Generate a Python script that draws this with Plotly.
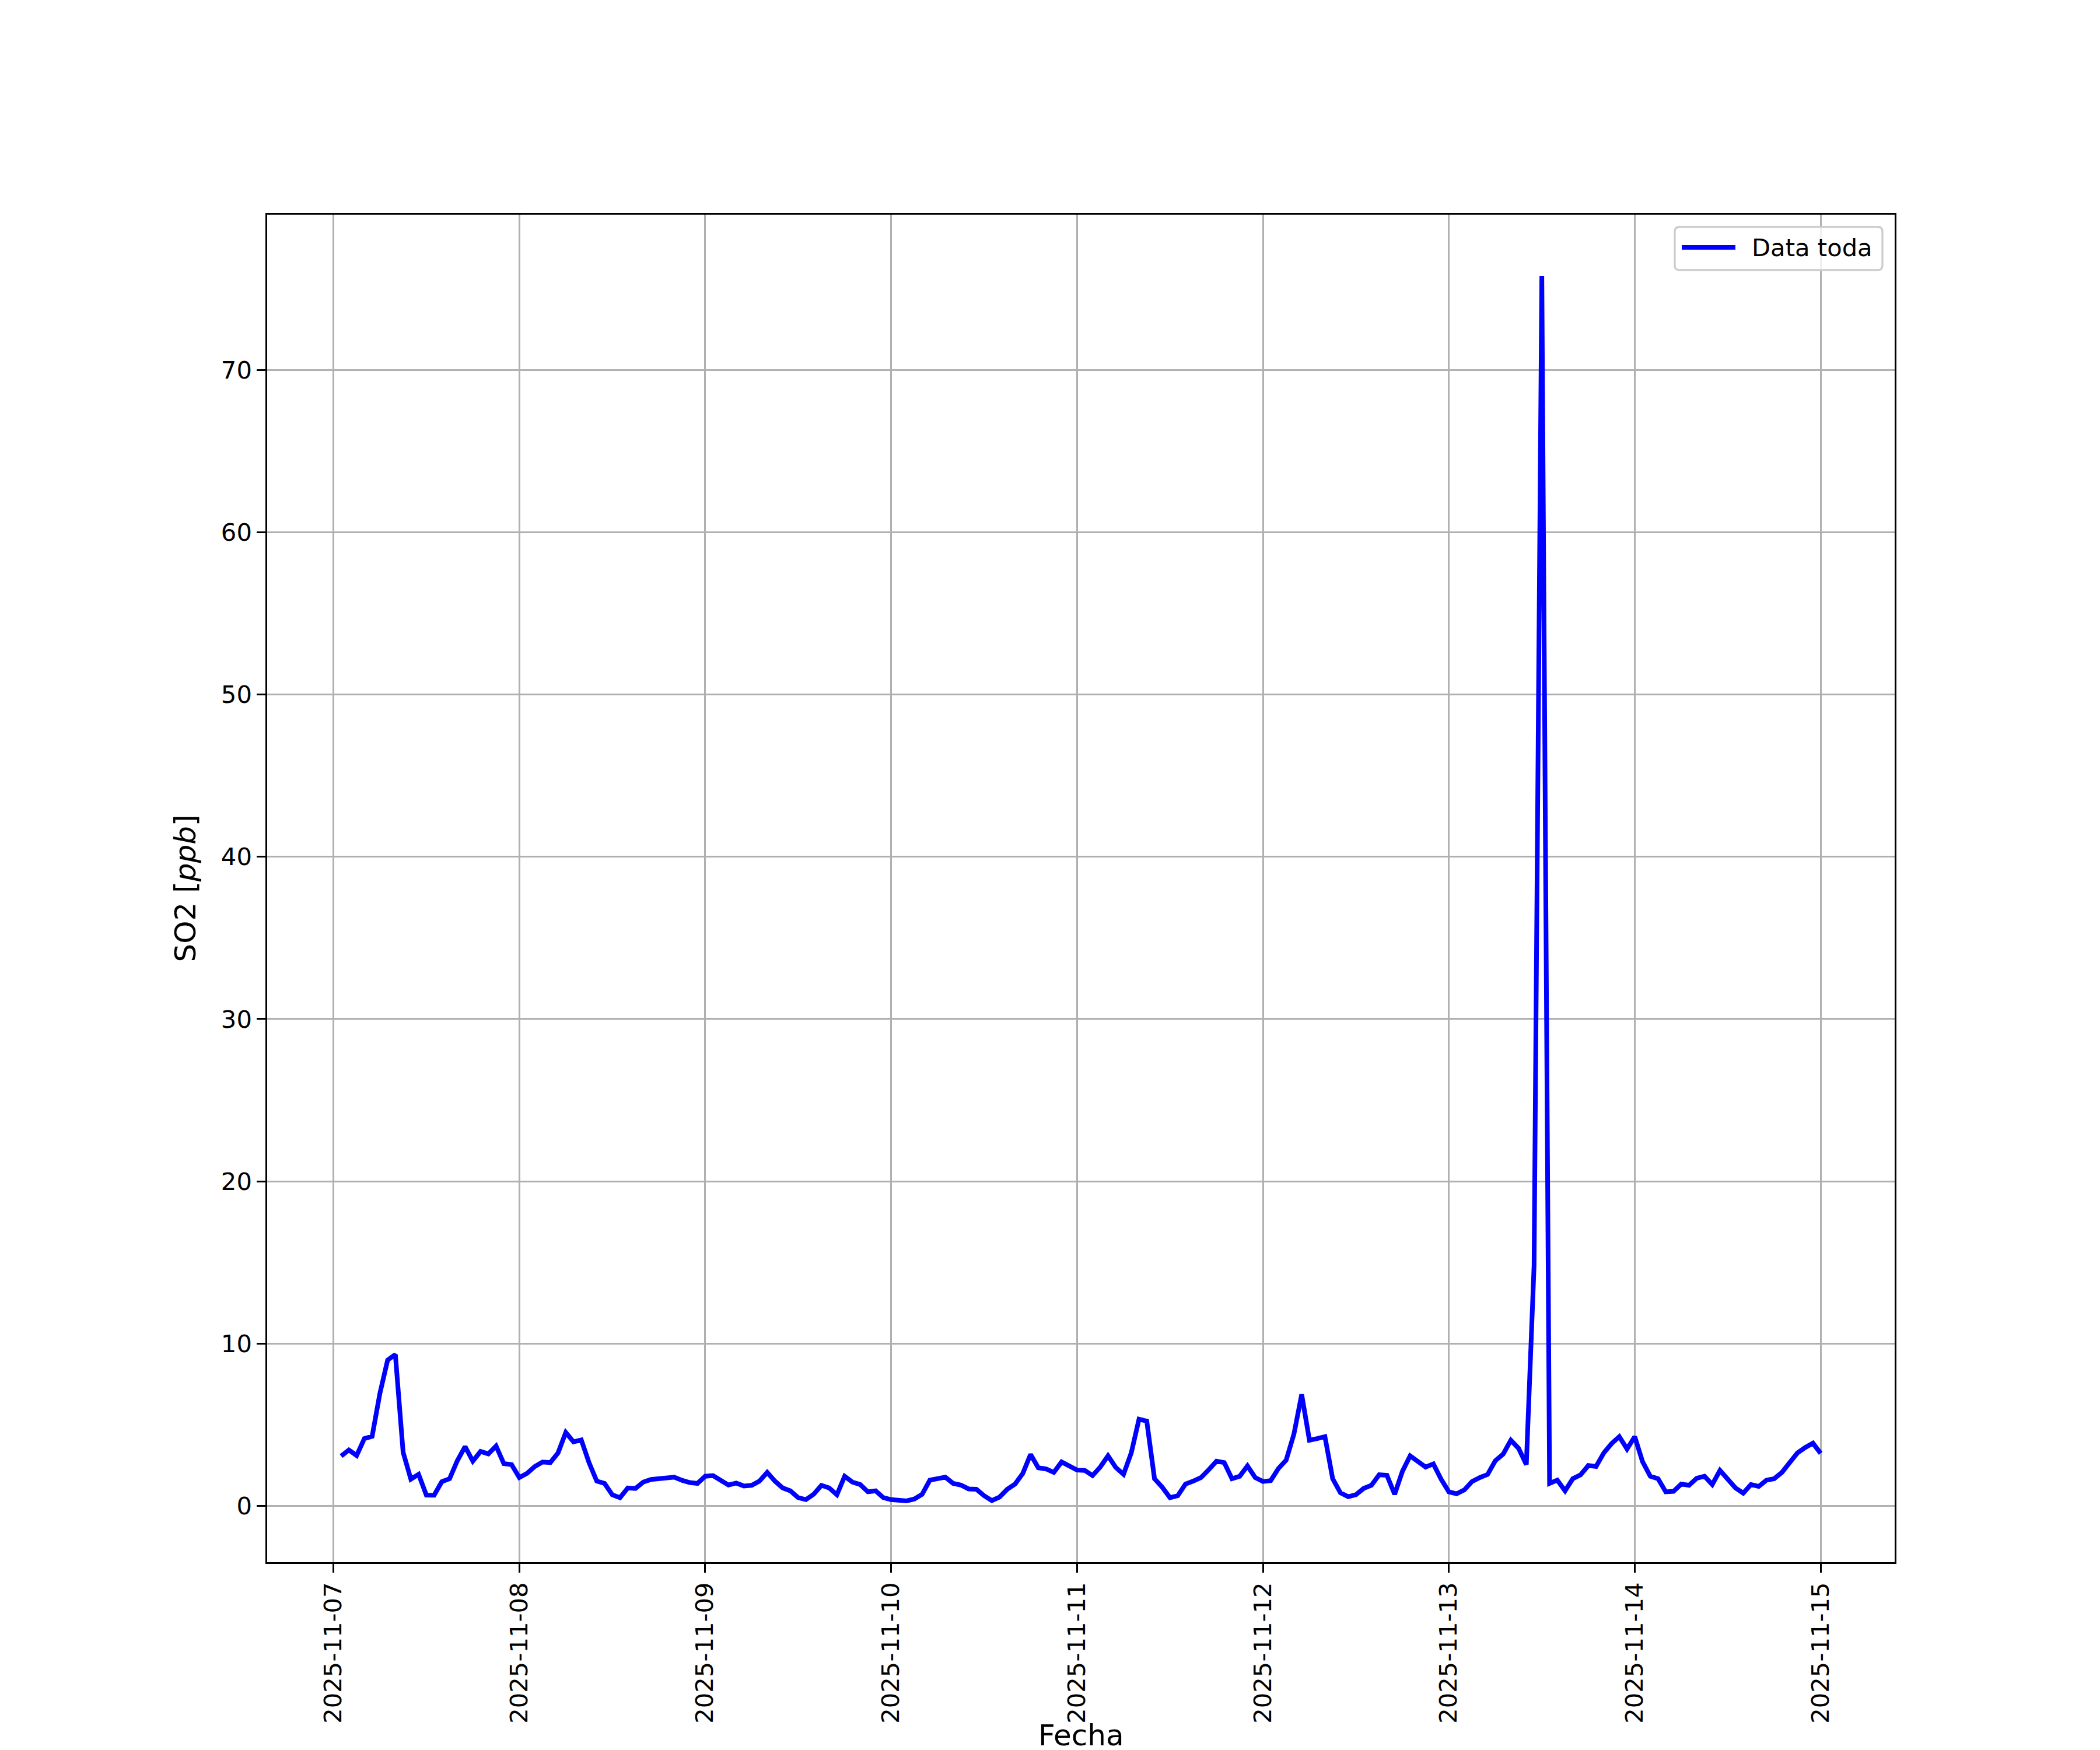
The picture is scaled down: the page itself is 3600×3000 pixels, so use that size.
import pandas as pd
import plotly.graph_objects as go

# ---- data (hourly SO2, ppb) ----
start_time = "2025-11-07 01:00"
n_hours = 192
so2_day1 = [3.06, 3.44, 3.10, 4.14, 4.28, 6.92, 8.98, 9.32, 3.30, 1.64,
            1.94, 0.66, 0.65, 1.49, 1.67, 2.78, 3.65, 2.75, 3.35, 3.20,
            3.68, 2.60, 2.54, 1.74, 2.00, 2.42, 2.70, 2.66, 3.26, 4.52,
            3.94, 4.06, 2.66, 1.52, 1.38, 0.68, 0.50, 1.10, 1.07, 1.46,
            1.62, 1.67, 1.69, 1.76, 1.57, 1.43, 1.38, 1.82]
so2_day2 = [1.86, 1.58, 1.28, 1.40, 1.22, 1.26, 1.52, 2.06, 1.52, 1.10,
            0.92, 0.50, 0.38, 0.71, 1.26, 1.10, 0.68, 1.82, 1.46, 1.31,
            0.86, 0.92, 0.50, 0.38, 0.35, 0.30, 0.42, 0.71, 1.58, 1.70,
            1.76, 1.38, 1.28, 1.04, 1.02, 0.62, 0.32, 0.54, 1.02, 1.34,
            2.00, 3.17, 2.34, 2.27, 2.06, 2.70, 2.42, 2.20]
so2_day3 = [2.18, 1.86, 2.39, 3.08, 2.36, 1.94, 3.26, 5.34, 5.22, 1.67,
            1.14, 0.50, 0.62, 1.34, 1.52, 1.74, 2.22, 2.75, 2.66, 1.67,
            1.82, 2.46, 1.74, 1.50, 1.55, 2.30, 2.82, 4.42, 6.86, 4.04,
            4.14, 4.26, 1.67, 0.80, 0.56, 0.68, 1.07, 1.26, 1.91, 1.88,
            0.71, 2.12, 3.08, 2.75, 2.39, 2.58, 1.64, 0.86]
so2_day4 = [0.74, 0.98, 1.50, 1.74, 1.93, 2.78, 3.18, 4.04, 3.54, 2.54,
            14.8, 75.8, 1.38, 1.58, 0.92, 1.67, 1.91, 2.48, 2.42, 3.26,
            3.83, 4.26, 3.50, 4.26, 2.72, 1.82, 1.67, 0.86, 0.89, 1.34,
            1.26, 1.70, 1.82, 1.31, 2.18, 1.64, 1.10, 0.78, 1.31, 1.19,
            1.58, 1.67, 2.06, 2.66, 3.26, 3.59, 3.86, 3.23]
y_ticks = [0, 10, 20, 30, 40, 50, 60, 70]
x_tick_dates = ["2025-11-07", "2025-11-08", "2025-11-09", "2025-11-10",
                "2025-11-11", "2025-11-12", "2025-11-13", "2025-11-14",
                "2025-11-15"]
series_name = "Data toda"
x_title = "Fecha"
y_title = "SO2 [<i>ppb</i>]"

so2 = so2_day1 + so2_day2 + so2_day3 + so2_day4
times = pd.date_range(start_time, periods=n_hours, freq="h")

# matplotlib-like 5% autoscale margins
t0, t1 = times[0], times[-1]
tspan = t1 - t0
x_range = [t0 - 0.05 * tspan, t1 + 0.05 * tspan]
ymin, ymax = min(so2), max(so2)
yspan = ymax - ymin
y_range = [ymin - 0.05 * yspan, ymax + 0.05 * yspan]

FONT = "DejaVu Sans"
TICK_PX = 41.7
LABEL_PX = 50
LINE_COLOR = "#0000ff"
LINE_W = 8.0

# figure / plot-area geometry (pixels)
W, H = 3600, 3000
ML, MR, MT, MB = 450, 360, 360, 330
PW, PH = W - ML - MR, H - MT - MB


def px(xp):
    return (xp - ML) / PW


def py(yp):
    return (H - MB - yp) / PH


fig = go.Figure()
fig.add_trace(go.Scatter(
    x=times, y=so2, mode="lines", name=series_name,
    line=dict(color=LINE_COLOR, width=LINE_W),
    showlegend=False,
))

axis_common = dict(
    showline=True, linecolor="black", linewidth=3.3, mirror=True,
    showgrid=True, gridcolor="#b0b0b0", gridwidth=3.3,
    zeroline=False,
    ticks="outside", ticklen=14.6, tickwidth=3.3, tickcolor="black",
    tickfont=dict(family=FONT, size=TICK_PX, color="black"),
    automargin=False,
)

# ---- matplotlib-style legend box (upper right) ----
bx0, bx1, by0, by1, r = 2863, 3219, 381, 455, 8
path = (
    f"M {px(bx0 + r)},{py(by0)} L {px(bx1 - r)},{py(by0)} "
    f"Q {px(bx1)},{py(by0)} {px(bx1)},{py(by0 + r)} "
    f"L {px(bx1)},{py(by1 - r)} "
    f"Q {px(bx1)},{py(by1)} {px(bx1 - r)},{py(by1)} "
    f"L {px(bx0 + r)},{py(by1)} "
    f"Q {px(bx0)},{py(by1)} {px(bx0)},{py(by1 - r)} "
    f"L {px(bx0)},{py(by0 + r)} "
    f"Q {px(bx0)},{py(by0)} {px(bx0 + r)},{py(by0)} Z"
)
shapes = [
    dict(type="path", xref="paper", yref="paper", path=path,
         fillcolor="rgba(255,255,255,0.8)", line=dict(color="#cccccc", width=3.3),
         layer="above"),
    dict(type="line", xref="paper", yref="paper",
         x0=px(2875), x1=px(2967), y0=py(416), y1=py(416),
         line=dict(color=LINE_COLOR, width=LINE_W), layer="above"),
]
annotations = [
    dict(text=series_name, xref="paper", yref="paper",
         x=px(2994), y=py(417), xanchor="left", yanchor="middle",
         showarrow=False, borderpad=0,
         font=dict(family=FONT, size=TICK_PX, color="black")),
    # x-axis title, placed like matplotlib's xlabel
    dict(text=x_title, xref="paper", yref="paper",
         x=0.5, y=py(2997), xanchor="center", yanchor="bottom",
         showarrow=False, borderpad=0,
         font=dict(family=FONT, size=LABEL_PX, color="black")),
]

fig.update_layout(
    width=W, height=H,
    paper_bgcolor="white", plot_bgcolor="white",
    margin=dict(l=ML, r=MR, t=MT, b=MB, autoexpand=False),
    font=dict(family=FONT, size=TICK_PX, color="black"),
    showlegend=False,
    shapes=shapes,
    annotations=annotations,
    xaxis=dict(
        **axis_common,
        type="date",
        range=x_range,
        tickvals=pd.to_datetime(x_tick_dates),
        ticktext=x_tick_dates,
        tickangle=-90,
    ),
    yaxis=dict(
        **axis_common,
        range=y_range,
        tickvals=y_ticks,
        ticktext=[str(v) for v in y_ticks],
        title=dict(text=y_title, font=dict(family=FONT, size=LABEL_PX, color="black"), standoff=28),
    ),
)

fig.write_html("out.html")
